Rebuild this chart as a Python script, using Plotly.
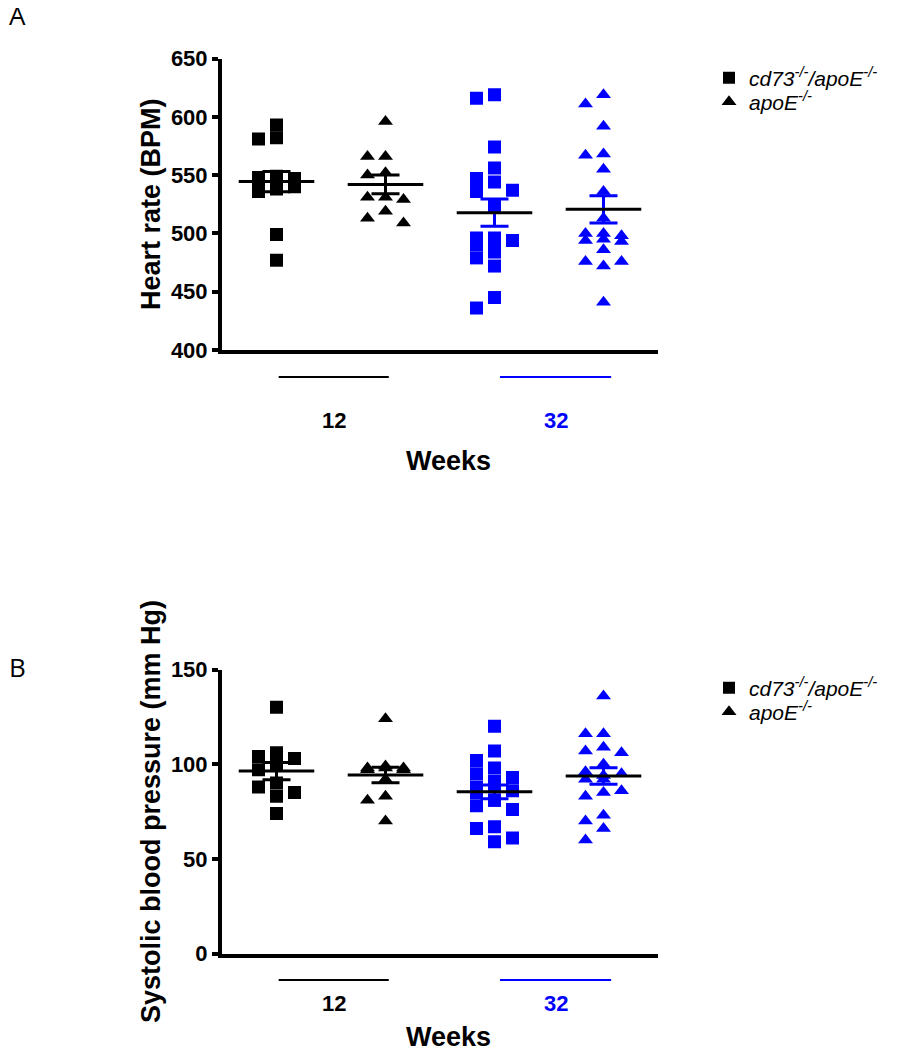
import numpy as np
import plotly.graph_objects as go

# ---------------- data ----------------
group_positions = [1, 2, 3, 4]
week_labels = ["12", "32"]
legend_names = ["<i>cd73<sup>-/-</sup>/apoE<sup>-/-</sup></i>", "<i>apoE<sup>-/-</sup></i>"]

# Panel A: heart rate (BPM)
hr_cd73_12 = [593, 582, 581, 549, 548, 547, 545, 543, 540, 538, 536, 499, 477]
hr_apoe_12 = [596, 566, 566, 552, 550, 531, 531, 529, 519, 513, 509]
hr_cd73_32 = [619, 616, 574, 556, 547, 544, 537, 536, 524, 496, 496, 494, 493,
              490, 484, 479, 472, 445, 436]
hr_apoe_32 = [619, 611, 592, 568, 567, 555, 536, 513, 500, 500, 498, 495, 494,
              493, 486, 476, 476, 472, 441]

# Panel B: systolic blood pressure (mm Hg)
sbp_cd73_12 = [130, 106, 104, 103, 100, 97, 90, 88, 85, 83, 74]
sbp_apoe_12 = [124, 99, 98, 98, 98, 97, 97, 92, 83, 81, 70]
sbp_cd73_32 = [120, 107, 102, 98, 95, 93, 91, 88, 88, 86, 85, 81, 81, 78, 76,
               67, 66, 61, 59]
sbp_apoe_32 = [136, 116, 116, 109, 107, 106, 100, 96, 95, 94, 92, 92, 86, 85,
               83, 73, 70, 66, 60]

BLACK = "#000000"
BLUE = "#0000FF"
group_colors = [BLACK, BLACK, BLUE, BLUE]
group_symbols = ["square", "triangle-up", "square", "triangle-up"]
symbol_sizes = {"square": 13, "triangle-up": 13}

W, H = 898, 1050
PAGE_OFFSET = 8  # the page body margin shifts the figure by this many pixels
FONT = "Liberation Sans, Arial, Helvetica, sans-serif"


def py2paper(py):
    return 1 - (py - PAGE_OFFSET) / H


def px2paper(px):
    return (px - PAGE_OFFSET) / W


# plot area geometry (screen pixels)
X_LEFT, X_RIGHT = 222.0, 658.0
A_TOP, A_BOT = 58.5, 350.0
B_TOP, B_BOT = 669.5, 953.5
XRANGE = [0.5, 4.5]
PPU_X = (X_RIGHT - X_LEFT) / (XRANGE[1] - XRANGE[0])


def swarm(values, center, ppu_y, step=9.0, max_k=3, min_dx=17.0, min_dy=12.0):
    """Column-scatter layout: spread overlapping points sideways (computed, not typed)."""
    vals = np.asarray(values, dtype=float)
    order = np.argsort(-vals, kind="stable")
    placed = []
    xs = np.zeros(len(vals))
    cands = [0]
    for j in range(1, max_k + 1):
        cands += [j, -j] if j % 2 else [-j, j]
    for i in order:
        yv = vals[i] * ppu_y
        best = None
        for c in cands:
            xo = c * step
            n_over = sum(1 for (qx, qy) in placed
                         if abs(xo - qx) < min_dx and abs(yv - qy) < min_dy)
            key = (n_over, abs(c))
            if best is None or key < best[0]:
                best = (key, xo)
            if n_over == 0:
                break
        xo = best[1]
        placed.append((xo, yv))
        xs[i] = center + xo / PPU_X
    return xs


fig = go.Figure()

panels = [
    dict(data=[hr_cd73_12, hr_apoe_12, hr_cd73_32, hr_apoe_32], xa="x", ya="y",
         ppu=(A_BOT - A_TOP) / 250.0),
    dict(data=[sbp_cd73_12, sbp_apoe_12, sbp_cd73_32, sbp_apoe_32], xa="x2", ya="y2",
         ppu=(B_BOT - B_TOP) / 150.0),
]

for p in panels:
    for g, vals in enumerate(p["data"]):
        xs = swarm(vals, group_positions[g], p["ppu"])
        fig.add_trace(go.Scatter(
            x=xs, y=vals, mode="markers", xaxis=p["xa"], yaxis=p["ya"],
            showlegend=False, hoverinfo="y",
            marker=dict(symbol=group_symbols[g], size=symbol_sizes[group_symbols[g]],
                        color=group_colors[g], line=dict(width=0))))
    for g, vals in enumerate(p["data"]):
        v = np.asarray(vals, dtype=float)
        m = v.mean()
        sem = v.std(ddof=1) / np.sqrt(len(v))
        fig.add_trace(go.Scatter(
            x=[group_positions[g]], y=[m], mode="markers", xaxis=p["xa"], yaxis=p["ya"],
            showlegend=False, hoverinfo="y",
            marker=dict(symbol="line-ew", size=54, color=BLACK, line=dict(width=3, color=BLACK)),
            error_y=dict(type="data", array=[sem], visible=True, color=group_colors[g],
                         thickness=3, width=14)))

# legend entries: one legend per entry so each can be placed like the reference
legend_ids = ["legend", "legend2", "legend3", "legend4"]
legend_rows_y = [78, 102, 688, 712]
k = 0
for panel_i in range(2):
    for s, name in enumerate(legend_names):
        fig.add_trace(go.Scatter(
            x=[None], y=[None], mode="markers", name=name, legend=legend_ids[k],
            xaxis="x" if panel_i == 0 else "x2", yaxis="y" if panel_i == 0 else "y2",
            marker=dict(symbol=["square", "triangle-up"][s], size=[12, 13][s], color=BLACK)))
        k += 1

legend_layout = {}
for k, lid in enumerate(legend_ids):
    legend_layout[lid] = dict(x=px2paper(709), y=py2paper(legend_rows_y[k]),
                              xanchor="left", yanchor="middle",
                              font=dict(family=FONT, size=21, color=BLACK),
                              bgcolor="rgba(0,0,0,0)", borderwidth=0,
                              itemsizing="trace")

axis_common = dict(showline=True, linewidth=4, linecolor=BLACK, showgrid=False,
                   zeroline=False, mirror=False, automargin=False)
xcommon = dict(axis_common, range=XRANGE, showticklabels=False, ticks="",
               domain=[px2paper(X_LEFT), px2paper(X_RIGHT)])
ycommon = dict(axis_common, ticks="outside", ticklen=6, tickwidth=4, tickcolor=BLACK,
               tickfont=dict(family=FONT, size=22, color=BLACK, weight="bold"))

fig.update_layout(
    width=W, height=H, paper_bgcolor="white", plot_bgcolor="white",
    template="none",
    margin=dict(l=0, r=0, t=0, b=0, pad=0, autoexpand=False),
    font=dict(family=FONT, color=BLACK),
    xaxis=dict(xcommon, anchor="y"),
    xaxis2=dict(xcommon, anchor="y2"),
    yaxis=dict(ycommon, anchor="x", range=[400, 650], tickvals=[400, 450, 500, 550, 600, 650],
               domain=[py2paper(A_BOT), py2paper(A_TOP)],
               title=dict(text="Heart rate (BPM)", standoff=3,
                          font=dict(family=FONT, size=27, weight="bold"))),
    yaxis2=dict(ycommon, anchor="x2", range=[0, 150], tickvals=[0, 50, 100, 150],
                domain=[py2paper(B_BOT), py2paper(B_TOP)],
                title=dict(text="Systolic blood pressure (mm Hg)", standoff=3,
                           font=dict(family=FONT, size=27, weight="bold"))),
    **legend_layout,
)

week_spans = [(1.02, 2.03), (3.05, 4.07)]
week_centers = [1.53, 3.56]
week_colors = [BLACK, BLUE]
under = [
    dict(xa="x", line_y=377, label_y=420, title_y=461),
    dict(xa="x2", line_y=980, label_y=1003, title_y=1037),
]
shapes = []
annotations = []
for u in under:
    for w in range(2):
        shapes.append(dict(type="line", xref=u["xa"], yref="paper",
                           x0=week_spans[w][0], x1=week_spans[w][1],
                           y0=py2paper(u["line_y"]), y1=py2paper(u["line_y"]),
                           line=dict(color=week_colors[w], width=2)))
        annotations.append(dict(text=week_labels[w], xref=u["xa"], yref="paper",
                                x=week_centers[w], y=py2paper(u["label_y"]),
                                showarrow=False, xanchor="center", yanchor="middle",
                                font=dict(family=FONT, size=22, color=week_colors[w], weight="bold")))
    annotations.append(dict(text="Weeks", xref=u["xa"], yref="paper", x=2.58,
                            y=py2paper(u["title_y"]), showarrow=False,
                            xanchor="center", yanchor="middle",
                            font=dict(family=FONT, size=27, color=BLACK, weight="bold")))

letter_font = dict(family="Open Sans, Liberation Sans, sans-serif", size=26, color=BLACK)
annotations.append(dict(text="A", xref="paper", yref="paper", x=0, y=py2paper(15),
                        showarrow=False, xanchor="left", yanchor="middle", borderpad=0,
                        font=letter_font))
annotations.append(dict(text="B", xref="paper", yref="paper", x=0, y=py2paper(667),
                        showarrow=False, xanchor="left", yanchor="middle", borderpad=0,
                        font=letter_font))

fig.update_layout(shapes=shapes, annotations=annotations)

fig.write_html("out.html")
